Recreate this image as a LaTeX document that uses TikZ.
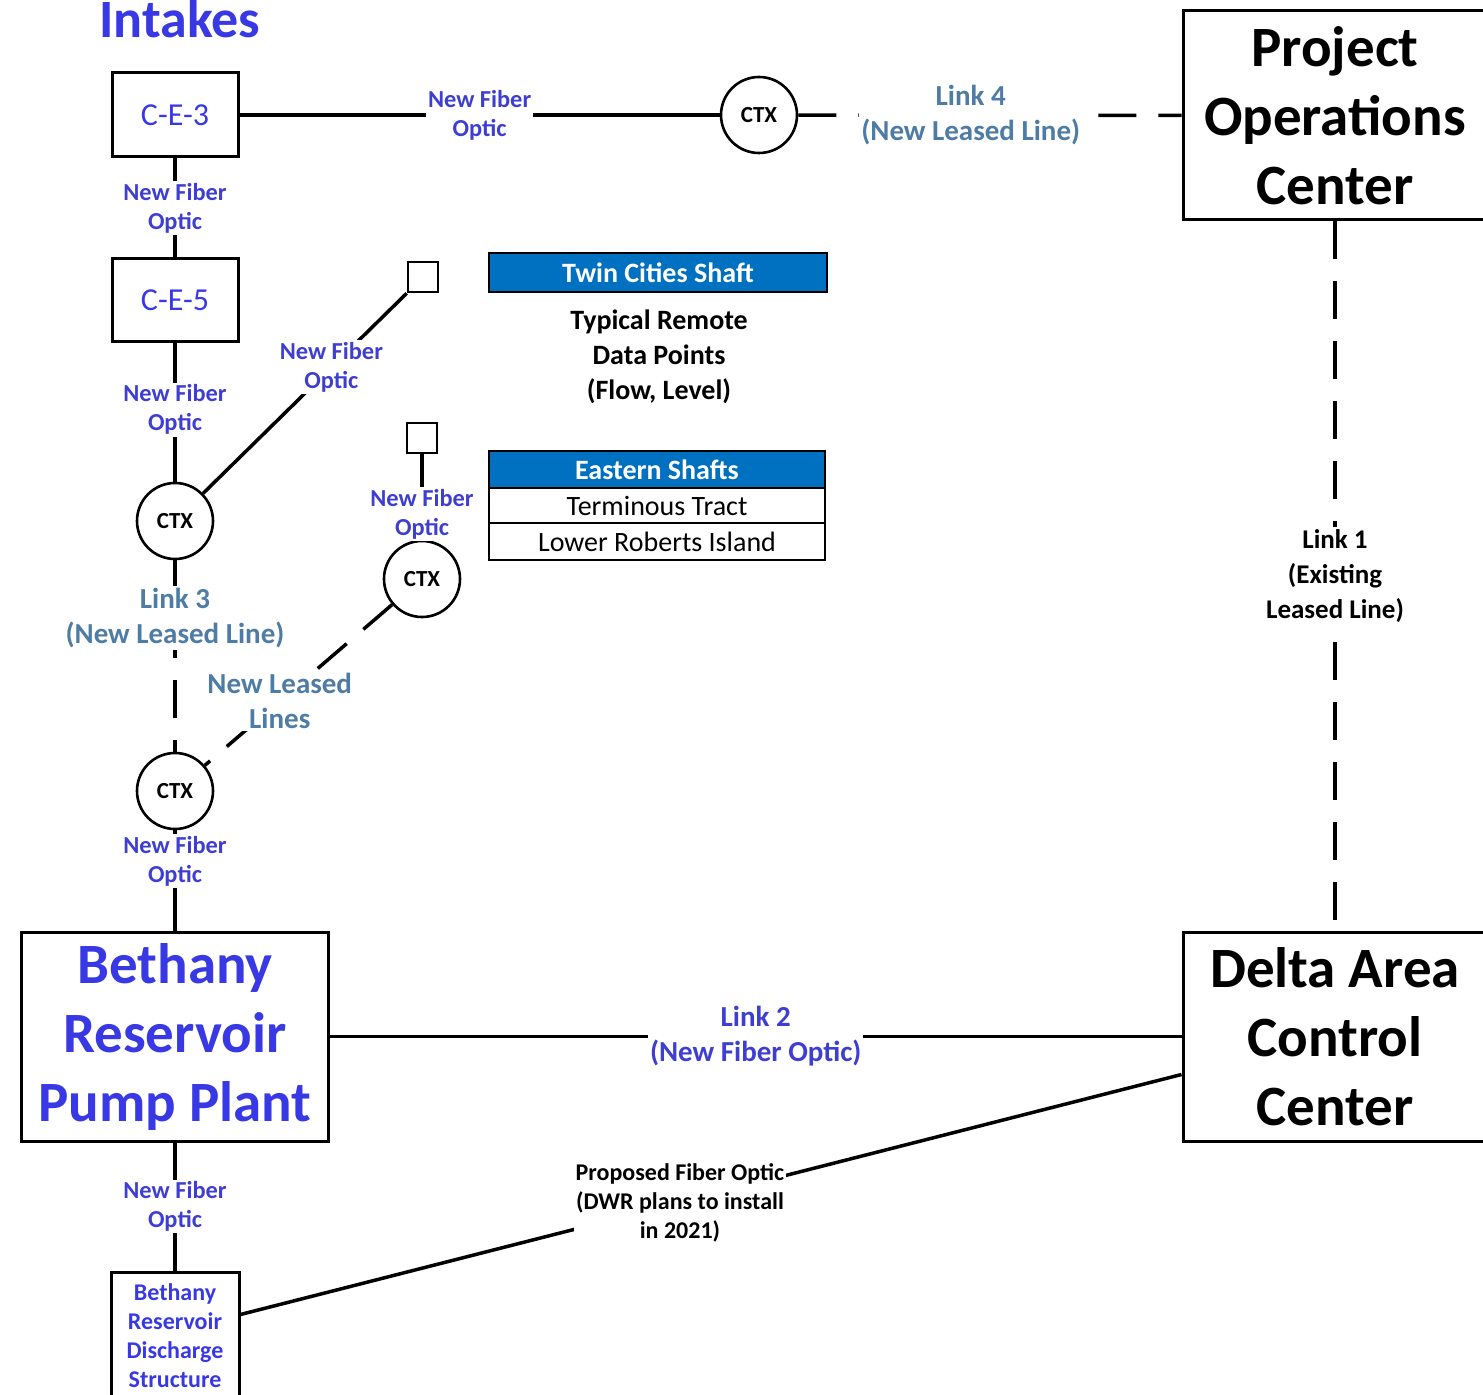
\documentclass[tikz,border=0pt]{standalone}
\usepackage{fontspec}
\setmainfont{Carlito}
\definecolor{titleblue}{RGB}{56,56,228}
\definecolor{fibblue}{RGB}{62,62,210}
\definecolor{leaseblue}{RGB}{78,124,165}
\definecolor{headblue}{RGB}{0,112,192}
\tikzset{
  conn/.style={line width=1.75pt},
  lconn/.style={line width=1.75pt, dash pattern=on 19pt off 11pt},
  box/.style={draw, line width=1.5pt, inner sep=0pt, align=center},
  bigtitle/.style={box, font=\bfseries\fontsize{28.5}{34.5}\selectfont},
  cebox/.style={box, text=titleblue, minimum width=63pt, minimum height=42pt, font=\fontsize{16}{19}\selectfont},
  ctx/.style={draw, circle, line width=1.3pt, minimum size=38pt, inner sep=0pt, font=\bfseries\fontsize{11.5}{13}\selectfont},
  sq/.style={draw, line width=1.3pt, minimum size=15pt, inner sep=0pt},
  fib/.style={fill=white, inner sep=1pt, align=center, text=fibblue, font=\bfseries\fontsize{12.2}{14.5}\selectfont},
  lease/.style={fill=white, inner sep=1pt, align=center, text=leaseblue, font=\bfseries\fontsize{14.5}{17.5}\selectfont},
  blk/.style={fill=white, inner sep=1pt, align=center, text=black, font=\bfseries\fontsize{12}{14.5}\selectfont},
  thead/.style={draw=black, line width=0.6pt, fill=headblue, text=white, inner sep=0pt, font=\bfseries\fontsize{14}{17}\selectfont},
  trow/.style={draw=black, line width=0.6pt, fill=white, text=black, inner sep=0pt, font=\fontsize{14}{17}\selectfont}
}
\begin{document}
\begin{tikzpicture}[x=0.5pt,y=-0.5pt]
\useasboundingbox (0,0) rectangle (1483,1395);

% title
\node[anchor=base, text=titleblue, font=\bfseries\fontsize{27}{31}\selectfont, inner sep=0pt] (intakes) at (180,38) {Intakes};

% boxes
\node[cebox] (ce3) at (175,115) {C-E-3};
\node[cebox, minimum height=41.5pt] (ce5) at (175,300.5) {C-E-5};
\node[bigtitle, minimum width=152pt, minimum height=104.5pt] (poc) at (1335,115.5) {Project\\Operations\\Center};
\node[bigtitle, minimum width=152pt, minimum height=104.5pt] (dacc) at (1335,1036.5) {Delta Area\\Control\\Center};
\node[bigtitle, text=titleblue, minimum width=153.5pt, minimum height=104.5pt] (beth) at (175,1036.5) {Bethany\\Reservoir\\Pump Plant};
\node[box, text=titleblue, minimum width=64pt, minimum height=64pt, font=\bfseries\fontsize{12}{14.5}\selectfont] (dis) at (175,1336) {Bethany\\Reservoir\\Discharge\\Structure};

% CTX nodes
\node[ctx] (ctxA) at (759,115) {CTX};
\node[ctx] (ctx1) at (175,521) {CTX};
\node[ctx] (ctx2) at (422,579) {CTX};
\node[ctx] (ctx3) at (175,791) {CTX};

% remote data squares
\node[sq] (sq1) at (423,277) {};
\node[sq] (sq2) at (422,438) {};

% legend tables
\node[thead, minimum width=169pt, minimum height=19.5pt] (tcs) at (658,272.5) {Twin Cities Shaft};
\node[align=center, font=\bfseries\fontsize{14}{17.5}\selectfont] (trd) at (659,357) {Typical Remote\\Data Points\\(Flow, Level)};
\node[thead, minimum width=168pt, minimum height=18.5pt] (esh) at (657,469.5) {Eastern Shafts};
\node[trow, minimum width=168pt, minimum height=17.5pt] (es1) at (657,505.5) {Terminous Tract};
\node[trow, minimum width=168pt, minimum height=18.5pt] (es2) at (657,541.5) {Lower Roberts Island};

% connectors
\draw[conn] (ce3) -- node[fib] {New Fiber\\Optic} (ctxA);
\draw[lconn] (ctxA) -- node[lease, pos=0.45] {Link 4\\(New Leased Line)} (poc);
\draw[conn] (ce3) -- node[fib] {New Fiber\\Optic} (ce5);
\draw[conn] (ce5) -- node[fib, pos=0.48] {New Fiber\\Optic} (ctx1);
\draw[conn] (ctx1) -- node[fib, pos=0.63] {New Fiber\\Optic} (sq1.south west);
\draw[conn] (sq2) -- node[fib, pos=0.7] {New Fiber\\Optic} (ctx2);
\draw[lconn] (ctx1) -- node[lease, pos=0.3] {Link 3\\(New Leased Line)} (ctx3);
\draw[lconn] (ctx2) -- node[lease, pos=0.6] {New Leased\\Lines} (ctx3);
\draw[conn] (ctx3) -- node[fib, pos=0.31] {New Fiber\\Optic} (beth);
\draw[lconn] (poc) -- node[blk, font=\bfseries\fontsize{13.5}{17.5}\selectfont] {Link 1\\(Existing\\Leased Line)} (dacc);
\draw[conn] (beth) -- node[lease, text=fibblue] {Link 2\\(New Fiber Optic)} (dacc);
\draw[conn] (beth) -- node[fib] {New Fiber\\Optic} (dis);
\coordinate (pfA) at ([yshift=-22pt]dis.north east);
\coordinate (pfB) at ([yshift=-72pt]dacc.north west);
\draw[conn] (pfA) -- node[blk, pos=0.467] {Proposed Fiber Optic\\(DWR plans to install\\in 2021)} (pfB);
\end{tikzpicture}
\end{document}
